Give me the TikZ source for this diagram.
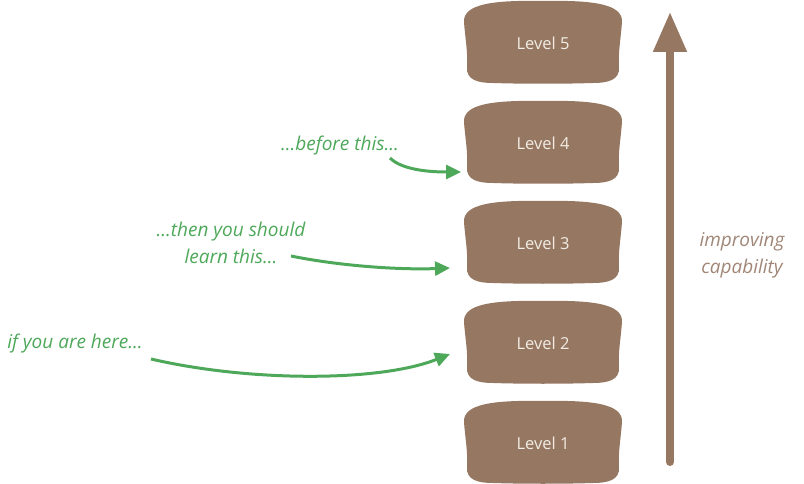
\documentclass[tikz,border=0pt]{standalone}
\usepackage{fontspec}
\setmainfont{Open Sans}
\usetikzlibrary{arrows.meta}
\definecolor{bark}{RGB}{150,120,98}
\definecolor{barktext}{RGB}{160,134,118}
\definecolor{leaf}{RGB}{78,168,90}
\definecolor{cream}{RGB}{242,236,228}
\newcommand\myblob[1]{%
  \begin{scope}[shift={(#1.center)}]
    \fill[bark] (-79,-20) .. controls (-80,-38) and (-50,-42) .. (0,-41)
      .. controls (50,-42) and (80,-38) .. (79,-20)
      .. controls (78,-5) and (75,10) .. (76,25)
      .. controls (77,38) and (65,41) .. (50,41)
      .. controls (20,42) and (-20,42) .. (-50,41)
      .. controls (-65,41) and (-77,38) .. (-76,25)
      .. controls (-75,10) and (-78,-5) .. (-79,-20) -- cycle;
  \end{scope}}
\tikzset{
  lvl/.style={minimum width=157pt, minimum height=83pt, inner sep=0pt, text=cream, font=\fontsize{16.5}{18}\selectfont},
  note/.style={text=leaf, font=\fontsize{19}{27}\selectfont\itshape, align=center},
  garrow/.style={leaf, line width=3pt, -{Triangle[length=15pt,width=14pt]}},
}
\begin{document}
\begin{tikzpicture}[x=1pt,y=-1pt]
\useasboundingbox (0,0) rectangle (804,484);
\node[lvl] (l5) at (543,42) {};
\node[lvl] (l4) at (543,142) {};
\node[lvl] (l3) at (543,242) {};
\node[lvl] (l2) at (543,342) {};
\node[lvl] (l1) at (543,442) {};
\myblob{l5}\myblob{l4}\myblob{l3}\myblob{l2}\myblob{l1}
\node[lvl] at ([yshift=-1.5pt]l5.center) {Level 5};
\node[lvl] at ([yshift=-1.5pt]l4.center) {Level 4};
\node[lvl] at ([yshift=-1.5pt]l3.center) {Level 3};
\node[lvl] at ([yshift=-1.5pt]l2.center) {Level 2};
\node[lvl] at ([yshift=-1.5pt]l1.center) {Level 1};
% big arrow
\coordinate (abot) at (670,462);
\coordinate (atop) at (670,12);
\draw[bark, line width=8pt, line cap=round, -{Triangle[length=40pt,width=32pt]}] (abot) -- (atop);
\node[text=barktext, font=\fontsize{19}{27}\selectfont\itshape, align=center] (cap) at (742,255) {improving\\capability};
% notes
\node[note] (n4) at (340,146) {...before this...};
\node[note] (n3) at (231,243) {...then you should\\learn this...};
\node[note] (n2) at (75,344) {if you are here...};
\coordinate (s4) at (390,158);
\coordinate (t4) at (461,172);
\coordinate (s3) at (291,256);
\coordinate (t3) at (450,268);
\coordinate (s2) at (151,359);
\coordinate (t2) at (450,354);
\draw[garrow] (s4) .. controls (402,170) and (430,172) .. (t4);
\draw[garrow] (s3) .. controls (340,266) and (400,270) .. (t3);
\draw[garrow] (s2) .. controls (250,382) and (380,382) .. (t2);
\end{tikzpicture}
\end{document}
